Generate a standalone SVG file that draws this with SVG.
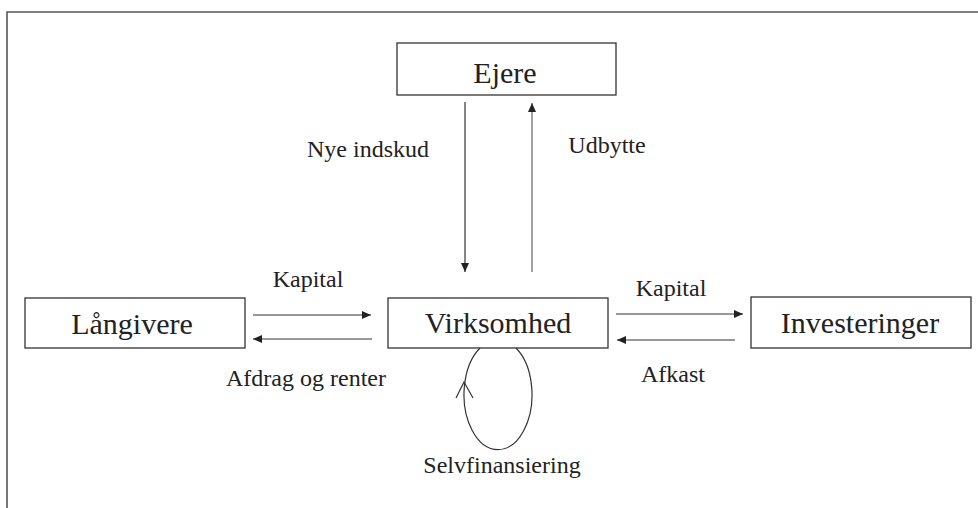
<svg xmlns="http://www.w3.org/2000/svg" width="978" height="508" viewBox="0 0 978 508">
<defs>
<style>
.box{fill:#fff;stroke:#333;stroke-width:1.3}
.big{font-family:"Liberation Serif","Times New Roman",serif;font-size:30px;fill:#222;text-anchor:middle}
.lbl{font-family:"Liberation Serif","Times New Roman",serif;font-size:24px;fill:#222;text-anchor:middle}
.ln{stroke:#333;stroke-width:1.2;fill:none}
.ln2{stroke:#777;stroke-width:1.4;fill:none}
</style>
<marker id="ah" markerWidth="10" markerHeight="8" refX="9" refY="4" orient="auto" markerUnits="userSpaceOnUse">
<path d="M0,0 L9,4 L0,8 Z" fill="#222"/>
</marker>
</defs>
<rect x="0" y="0" width="978" height="508" fill="#fff"/>
<polyline points="7,508 7,12 978,12" fill="none" stroke="#555" stroke-width="1.6"/>
<g id="ejere">
<rect class="box" x="397" y="43" width="219" height="52"/>
<text class="big" x="505" y="83">Ejere</text>
</g>
<g id="langivere">
<rect class="box" x="25" y="298" width="220" height="50"/>
<text class="big" x="132" y="334">Långivere</text>
</g>
<g id="virksomhed">
<rect class="box" x="388" y="298" width="220" height="50"/>
<text class="big" x="498" y="333">Virksomhed</text>
</g>
<g id="investeringer">
<rect class="box" x="751" y="297" width="220" height="51"/>
<text class="big" x="860" y="333">Investeringer</text>
</g>
<g id="connectors">
<line class="ln" x1="465" y1="102" x2="465" y2="272" marker-end="url(#ah)"/>
<line class="ln2" x1="532" y1="272" x2="532" y2="103" marker-end="url(#ah)"/>
<line class="ln" x1="253" y1="315" x2="371" y2="315" marker-end="url(#ah)"/>
<line class="ln2" x1="372" y1="339" x2="253" y2="339" marker-end="url(#ah)"/>
<line class="ln" x1="616" y1="314" x2="743" y2="314" marker-end="url(#ah)"/>
<line class="ln2" x1="735" y1="340" x2="617" y2="340" marker-end="url(#ah)"/>
<path class="ln" d="M480,348 A34,55 0 1 0 516,348"/>
<polyline class="ln" points="456,398 464,382 473,398"/>
<text class="lbl" x="368" y="157">Nye indskud</text>
<text class="lbl" x="607" y="153">Udbytte</text>
<text class="lbl" x="308" y="287">Kapital</text>
<text class="lbl" x="306" y="386">Afdrag og renter</text>
<text class="lbl" x="671" y="296">Kapital</text>
<text class="lbl" x="673" y="382">Afkast</text>
<text class="lbl" x="502" y="473">Selvfinansiering</text>
</g>
</svg>
